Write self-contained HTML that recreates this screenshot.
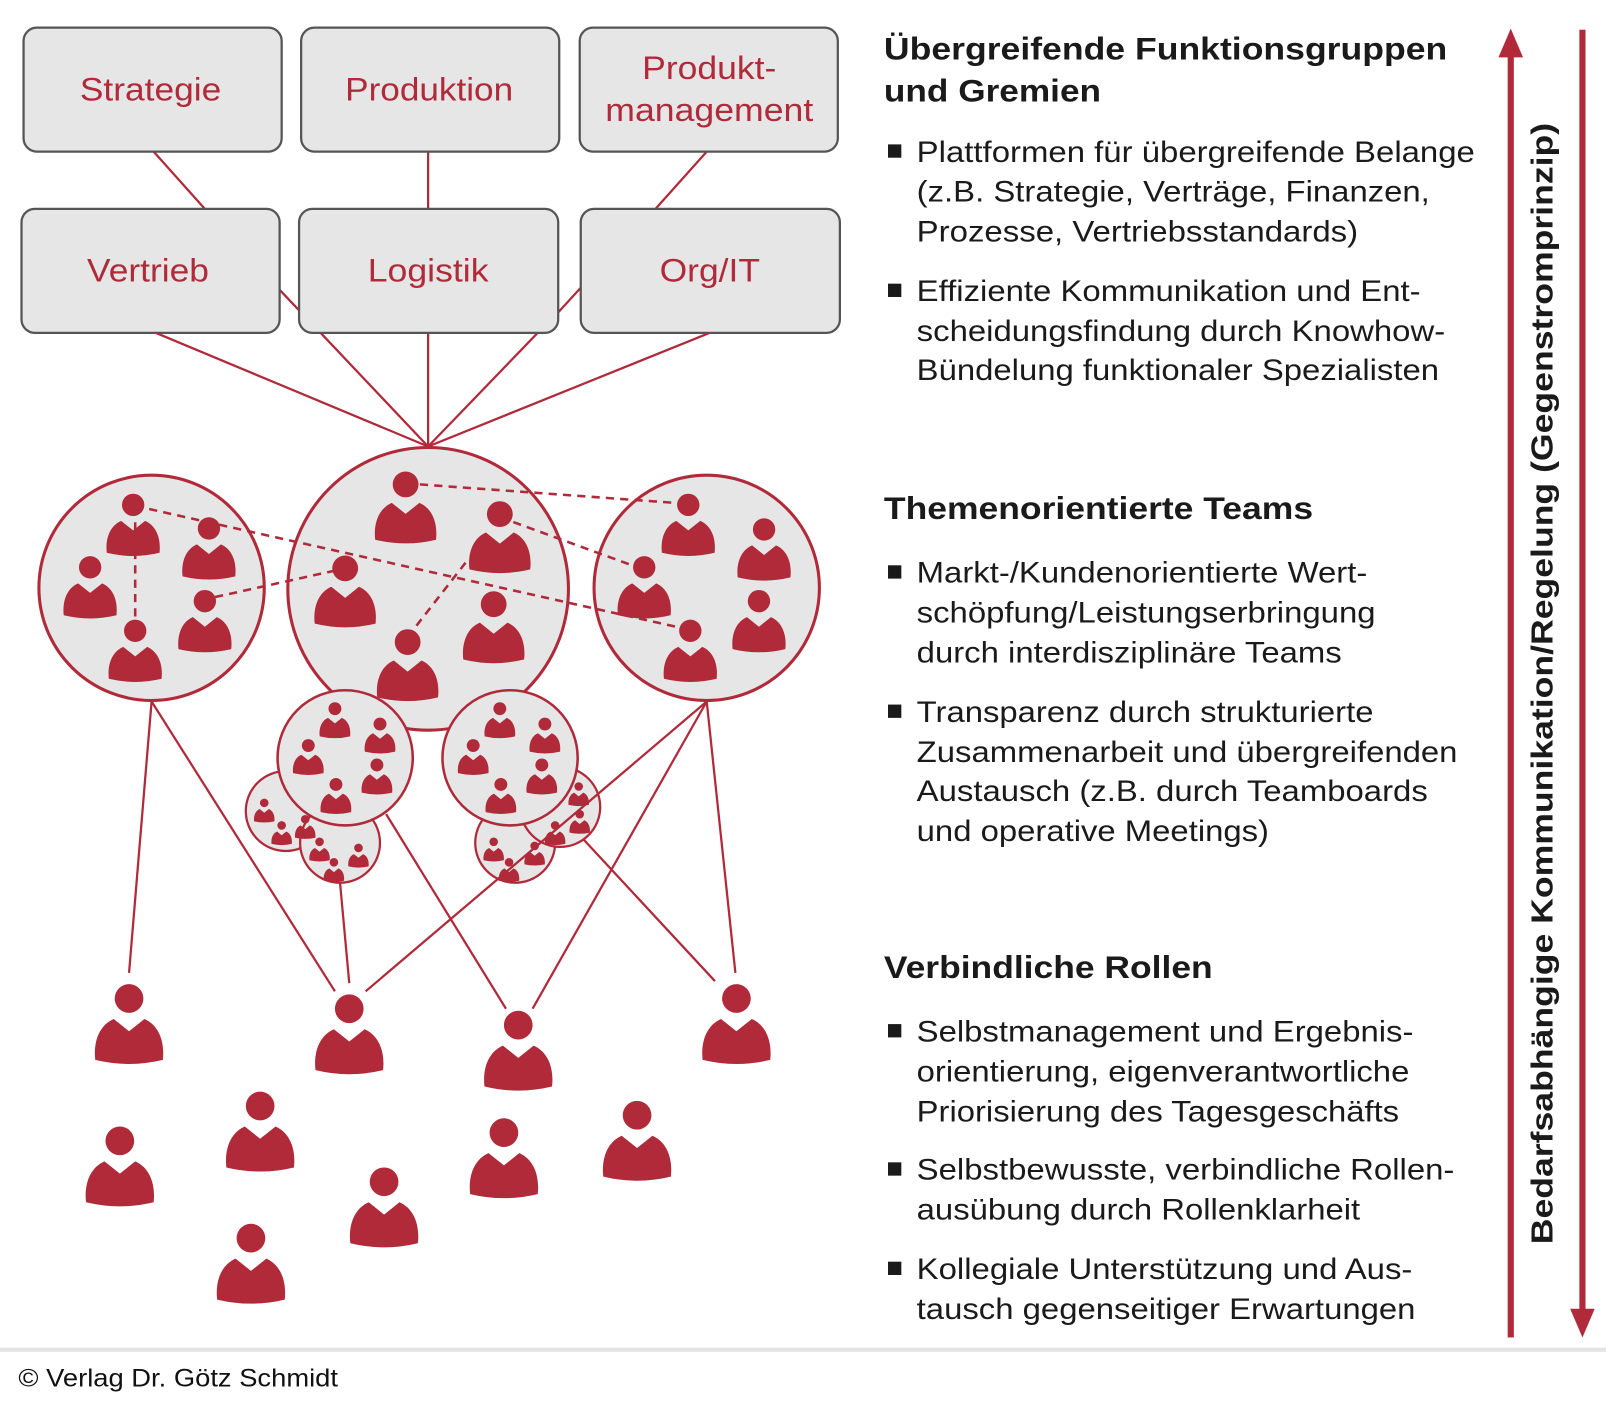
<!DOCTYPE html>
<html><head><meta charset="utf-8"><style>
html,body{margin:0;padding:0;background:#fff;}
svg{display:block;}
text{font-family:"Liberation Sans",Arial,sans-serif;}
</style></head><body>
<svg width="1606" height="1403" viewBox="0 0 1568 1370" preserveAspectRatio="none" xmlns="http://www.w3.org/2000/svg">
<defs>
<g id="p">
<circle cx="0" cy="0" r="14" fill="#b02a3a"/>
<path d="M-33,60 C-35,42 -29,26 -15,20 L0,32 L15,20 C29,26 35,42 33,60 Q0,68 -33,60 Z" fill="#b02a3a"/>
</g>
</defs>
<rect width="1568" height="1370" fill="#fff"/>
<g stroke="#b02a3a" stroke-width="2.2" fill="none">
<line x1="150" y1="148" x2="200" y2="204"/>
<line x1="418" y1="148" x2="418" y2="204"/>
<line x1="690" y1="148" x2="640" y2="204"/>
<line x1="273" y1="283" x2="292" y2="303"/>
<line x1="545" y1="305" x2="567" y2="281"/>
<line x1="152" y1="325" x2="418" y2="436"/>
<line x1="313" y1="325" x2="418" y2="436"/>
<line x1="418" y1="325" x2="418" y2="436"/>
<line x1="525" y1="325" x2="418" y2="436"/>
<line x1="693" y1="325" x2="418" y2="436"/>
</g>
<g fill="#e6e6e6" stroke="#555" stroke-width="2.2">
<rect x="23" y="27" width="252" height="121" rx="13"/>
<rect x="294" y="27" width="252" height="121" rx="13"/>
<rect x="566" y="27" width="252" height="121" rx="13"/>
<rect x="21" y="204" width="252" height="121" rx="13"/>
<rect x="292" y="204" width="253" height="121" rx="13"/>
<rect x="567" y="204" width="253" height="121" rx="13"/>
</g>
<g fill="#b02a3a" font-size="32" lengthAdjust="spacingAndGlyphs">
<text x="78" y="98" textLength="138" lengthAdjust="spacingAndGlyphs">Strategie</text>
<text x="337" y="98" textLength="164" lengthAdjust="spacingAndGlyphs">Produktion</text>
<text x="627" y="77" textLength="131" lengthAdjust="spacingAndGlyphs">Produkt-</text>
<text x="591" y="118" textLength="203" lengthAdjust="spacingAndGlyphs">management</text>
<text x="85" y="275" textLength="119" lengthAdjust="spacingAndGlyphs">Vertrieb</text>
<text x="359" y="275" textLength="118" lengthAdjust="spacingAndGlyphs">Logistik</text>
<text x="644" y="275" textLength="98" lengthAdjust="spacingAndGlyphs">Org/IT</text>
</g>
<g stroke="#b02a3a" stroke-width="2.2" fill="none">
<line x1="148" y1="685" x2="126" y2="950"/>
<line x1="148" y1="685" x2="327" y2="968"/>
<line x1="332" y1="862" x2="341" y2="960"/>
<line x1="377" y1="795" x2="494" y2="985"/>
<line x1="690" y1="685" x2="718" y2="950"/>
<line x1="690" y1="685" x2="520" y2="985"/>
<line x1="570" y1="820" x2="698" y2="958"/>
</g>
<g fill="#e6e6e6" stroke="#b02a3a" stroke-width="3">
<circle cx="148" cy="574" r="110"/>
<circle cx="690" cy="574" r="110"/>
<ellipse cx="418" cy="575" rx="137" ry="138"/>
</g>
<g stroke="#b02a3a" stroke-width="2.5" stroke-dasharray="8,6" fill="none">
<line x1="410" y1="473" x2="672" y2="492"/>
<line x1="132" y1="494" x2="660" y2="612"/>
<line x1="132" y1="510" x2="132" y2="605"/>
<line x1="210" y1="583" x2="337" y2="555"/>
<line x1="488" y1="505" x2="628" y2="556"/>
<line x1="398" y1="622" x2="458" y2="545"/>
</g>
<g>
<use href="#p" transform="translate(130,493) scale(0.78)"/>
<use href="#p" transform="translate(204,516) scale(0.78)"/>
<use href="#p" transform="translate(88,554) scale(0.78)"/>
<use href="#p" transform="translate(200,587) scale(0.78)"/>
<use href="#p" transform="translate(132,616) scale(0.78)"/>
<use href="#p" transform="translate(396,473) scale(0.9)"/>
<use href="#p" transform="translate(488,502) scale(0.9)"/>
<use href="#p" transform="translate(337,555) scale(0.9)"/>
<use href="#p" transform="translate(482,590) scale(0.9)"/>
<use href="#p" transform="translate(398,627) scale(0.9)"/>
<use href="#p" transform="translate(672,493) scale(0.78)"/>
<use href="#p" transform="translate(746,517) scale(0.78)"/>
<use href="#p" transform="translate(629,554) scale(0.78)"/>
<use href="#p" transform="translate(741,587) scale(0.78)"/>
<use href="#p" transform="translate(674,616) scale(0.78)"/>
</g>
<g fill="#e6e6e6" stroke="#b02a3a" stroke-width="2.2">
<circle cx="279" cy="792" r="39"/>
<circle cx="332" cy="823" r="39"/>
<circle cx="503" cy="823" r="39"/>
<circle cx="547" cy="788" r="39"/>
</g>
<g>
<use href="#p" transform="translate(258,784) scale(0.3)"/>
<use href="#p" transform="translate(275,806) scale(0.3)"/>
<use href="#p" transform="translate(298,800) scale(0.3)"/>
<use href="#p" transform="translate(312,822) scale(0.3)"/>
<use href="#p" transform="translate(350,828) scale(0.3)"/>
<use href="#p" transform="translate(326,842) scale(0.3)"/>
<use href="#p" transform="translate(482,822) scale(0.3)"/>
<use href="#p" transform="translate(497,842) scale(0.3)"/>
<use href="#p" transform="translate(522,826) scale(0.3)"/>
<use href="#p" transform="translate(542,806) scale(0.3)"/>
<use href="#p" transform="translate(566,795) scale(0.3)"/>
<use href="#p" transform="translate(565,768) scale(0.3)"/>
</g>
<g fill="#e6e6e6" stroke="#b02a3a" stroke-width="2.5">
<circle cx="337" cy="740" r="66"/>
<circle cx="498" cy="740" r="66"/>
</g>
<g>
<use href="#p" transform="translate(327,692) scale(0.45)"/>
<use href="#p" transform="translate(371,707) scale(0.45)"/>
<use href="#p" transform="translate(301,728) scale(0.45)"/>
<use href="#p" transform="translate(368,747) scale(0.45)"/>
<use href="#p" transform="translate(328,766) scale(0.45)"/>
<use href="#p" transform="translate(488,692) scale(0.45)"/>
<use href="#p" transform="translate(532,707) scale(0.45)"/>
<use href="#p" transform="translate(462,728) scale(0.45)"/>
<use href="#p" transform="translate(529,747) scale(0.45)"/>
<use href="#p" transform="translate(489,766) scale(0.45)"/>
</g>
<line x1="690" y1="685" x2="357" y2="968" stroke="#b02a3a" stroke-width="2.2"/>
<g>
<use href="#p" transform="translate(126,975)"/>
<use href="#p" transform="translate(341,985)"/>
<use href="#p" transform="translate(506,1001)"/>
<use href="#p" transform="translate(719,975)"/>
<use href="#p" transform="translate(117,1114)"/>
<use href="#p" transform="translate(254,1080)"/>
<use href="#p" transform="translate(375,1154)"/>
<use href="#p" transform="translate(245,1209)"/>
<use href="#p" transform="translate(492,1106)"/>
<use href="#p" transform="translate(622,1089)"/>
</g>
<g fill="#1a1a1a">
<g font-size="31" font-weight="bold">
<text x="863" y="58" textLength="550" lengthAdjust="spacingAndGlyphs">Übergreifende Funktionsgruppen</text>
<text x="863" y="99" textLength="212" lengthAdjust="spacingAndGlyphs">und Gremien</text>
<text x="863" y="507" textLength="419" lengthAdjust="spacingAndGlyphs">Themenorientierte Teams</text>
<text x="863" y="955" textLength="321" lengthAdjust="spacingAndGlyphs">Verbindliche Rollen</text>
</g>
<g font-size="28.5">
<text x="895" y="158" textLength="545" lengthAdjust="spacingAndGlyphs">Plattformen für übergreifende Belange</text>
<text x="895" y="197" textLength="501" lengthAdjust="spacingAndGlyphs">(z.B. Strategie, Verträge, Finanzen,</text>
<text x="895" y="236" textLength="431" lengthAdjust="spacingAndGlyphs">Prozesse, Vertriebsstandards)</text>
<text x="895" y="294" textLength="492" lengthAdjust="spacingAndGlyphs">Effiziente Kommunikation und Ent-</text>
<text x="895" y="333" textLength="516" lengthAdjust="spacingAndGlyphs">scheidungsfindung durch Knowhow-</text>
<text x="895" y="371" textLength="510" lengthAdjust="spacingAndGlyphs">Bündelung funktionaler Spezialisten</text>
<text x="895" y="569" textLength="440" lengthAdjust="spacingAndGlyphs">Markt-/Kundenorientierte Wert-</text>
<text x="895" y="608" textLength="448" lengthAdjust="spacingAndGlyphs">schöpfung/Leistungserbringung</text>
<text x="895" y="647" textLength="415" lengthAdjust="spacingAndGlyphs">durch interdisziplinäre Teams</text>
<text x="895" y="705" textLength="446" lengthAdjust="spacingAndGlyphs">Transparenz durch strukturierte</text>
<text x="895" y="744" textLength="528" lengthAdjust="spacingAndGlyphs">Zusammenarbeit und übergreifenden</text>
<text x="895" y="782" textLength="499" lengthAdjust="spacingAndGlyphs">Austausch (z.B. durch Teamboards</text>
<text x="895" y="821" textLength="344" lengthAdjust="spacingAndGlyphs">und operative Meetings)</text>
<text x="895" y="1017" textLength="485" lengthAdjust="spacingAndGlyphs">Selbstmanagement und Ergebnis-</text>
<text x="895" y="1056" textLength="481" lengthAdjust="spacingAndGlyphs">orientierung, eigenverantwortliche</text>
<text x="895" y="1095" textLength="471" lengthAdjust="spacingAndGlyphs">Priorisierung des Tagesgeschäfts</text>
<text x="895" y="1152" textLength="525" lengthAdjust="spacingAndGlyphs">Selbstbewusste, verbindliche Rollen-</text>
<text x="895" y="1191" textLength="433" lengthAdjust="spacingAndGlyphs">ausübung durch Rollenklarheit</text>
<text x="895" y="1249" textLength="484" lengthAdjust="spacingAndGlyphs">Kollegiale Unterstützung und Aus-</text>
<text x="895" y="1288" textLength="487" lengthAdjust="spacingAndGlyphs">tausch gegenseitiger Erwartungen</text>
</g>
<rect x="867" y="141" width="13" height="13"/>
<rect x="867" y="277" width="13" height="13"/>
<rect x="867" y="552" width="13" height="13"/>
<rect x="867" y="688" width="13" height="13"/>
<rect x="867" y="1000" width="13" height="13"/>
<rect x="867" y="1135" width="13" height="13"/>
<rect x="867" y="1232" width="13" height="13"/>
</g>
<g fill="#b02a3a">
<rect x="1472" y="52" width="6" height="1254"/>
<path d="M1475,28 L1487,56 L1463,56 Z"/>
<rect x="1542" y="29" width="6" height="1252"/>
<path d="M1545,1306 L1557,1278 L1533,1278 Z"/>
</g>
<text transform="translate(1516,1215) rotate(-90)" font-size="30" font-weight="bold" fill="#1a1a1a" textLength="1095" lengthAdjust="spacingAndGlyphs">Bedarfsabhängige Kommunikation/Regelung (Gegenstromprinzip)</text>
<rect x="0" y="1316" width="1568" height="4" fill="#e3e3e3"/>
<text x="18" y="1354" font-size="24" fill="#111" textLength="312" lengthAdjust="spacingAndGlyphs">© Verlag Dr. Götz Schmidt</text>
</svg>
</body></html>
